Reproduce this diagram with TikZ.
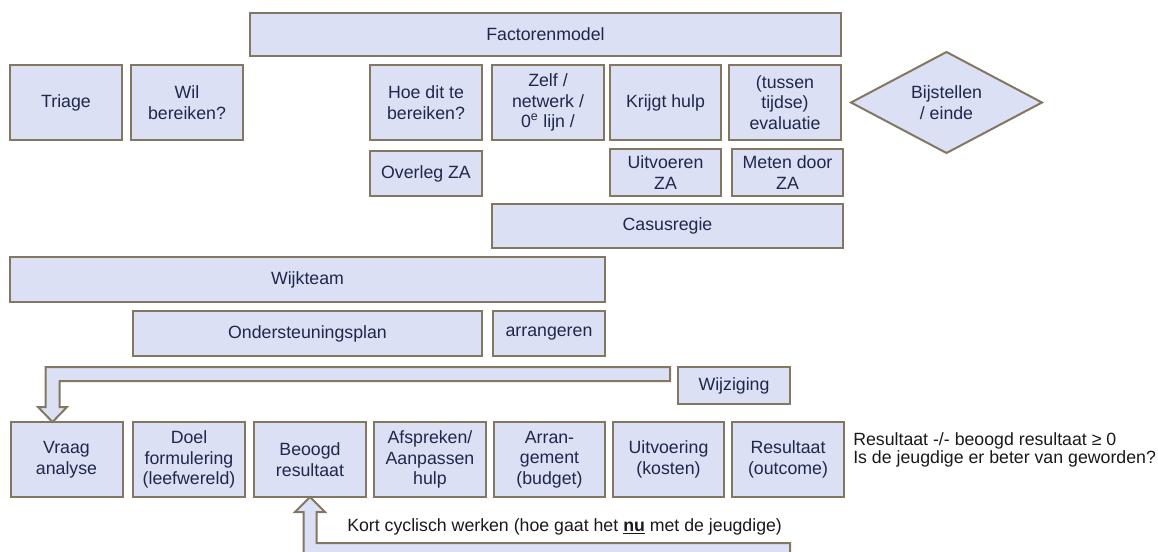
\documentclass[tikz,border=0pt]{standalone}
\usepackage{fontspec}
\setmainfont{Liberation Sans}
\usepackage{xcolor}
\usepackage{tikz}
\usetikzlibrary{arrows,shapes,positioning,calc}

\begin{document}
\begin{tikzpicture}[x=0.75pt,y=0.75pt,yscale=-1,xscale=1,
	blok/.style={draw={rgb, 255:red, 131; green, 119; blue, 98 }, line width=1.5pt, fill={rgb, 255:red, 220; green, 224; blue, 245 }, inner sep=0pt, outer sep=0pt, align=center, text={rgb, 255:red, 30; green, 40; blue, 75 }, font=\fontsize{13.3}{15.5}\selectfont, minimum width=84pt, minimum height=56.25pt},
	pijl/.style={draw={rgb, 255:red, 131; green, 119; blue, 98 }, line width=1.5pt, fill={rgb, 255:red, 220; green, 224; blue, 245 }, line join=miter},
	tekst/.style={text={rgb, 255:red, 25; green, 25; blue, 25 }, inner sep=0pt, align=left, font=\fontsize{13.3}{14}\selectfont}]
	\useasboundingbox (0,0) rectangle (1158,551);
	\clip (0,0) rectangle (1158,551);

	%Shape: Rectangle [id:factoren]
	\node [blok, minimum width=443.25pt, minimum height=32.25pt] (factoren) at (545.5,34.5) {Factorenmodel};

	%Shape: Rectangle [id:row two]
	\node [blok] (triage) at (66,102.5) {Triage};
	\node [blok] (wil) at (187,102.5) {Wil\\bereiken?};
	\node [blok] (hoe) at (426,102.5) {Hoe dit te\\bereiken?};
	\node [blok] (zelf) at (548,102.5) {Zelf /\\netwerk /\\0\textsuperscript{e} lijn /};
	\node [blok, minimum width=83.25pt] (krijgt) at (665.5,102.5) {Krijgt hulp};
	\node [blok] (evaluatie) at (785,102.5) {(tussen\\tijdse)\\evaluatie};
	%Shape: Diamond [id:bijstellen]
	\node [blok, shape=diamond, aspect=1.9, minimum width=143.25pt, minimum height=75.75pt] (bijstellen) at (946.5,102.5) {Bijstellen\\/ einde};

	%Shape: Rectangle [id:row three]
	\node [blok, minimum height=33.75pt] (overleg) at (426,173.5) {Overleg ZA};
	\node [blok, minimum width=83.25pt, minimum height=35.25pt] (uitvoeren) at (665.5,172.5) {Uitvoeren\\ZA};
	\node [blok, minimum width=83.25pt, minimum height=35.25pt] (meten) at (787.5,172.5) {Meten door\\ZA};
	\node [blok, minimum width=263.25pt, minimum height=33pt] (casus) at (667.5,226) {Casusregie};

	%Shape: Rectangle [id:wijkteam]
	\node [blok, minimum width=446.25pt, minimum height=33.75pt] (wijkteam) at (307.5,279.5) {Wijkteam};
	\node [blok, minimum width=261.75pt, minimum height=33.75pt] (plan) at (307.5,333.5) {Ondersteuningsplan};
	\node [blok, minimum height=33.75pt] (arrangeren) at (549,333.5) {arrangeren};
	\node [blok, minimum height=27.75pt] (wijziging) at (734,385.5) {Wijziging};

	%Shape: Rectangle [id:bottom row]
	\node [blok] (vraag) at (66.5,459.5) {Vraag\\analyse};
	\node [blok] (doel) at (189,459.5) {Doel\\formulering\\(leefwereld)};
	\node [blok] (beoogd) at (310,459.5) {Beoogd\\resultaat};
	\node [blok] (afspreken) at (430,459.5) {Afspreken/\\Aanpassen\\hulp};
	\node [blok, minimum width=83.25pt] (arrangement) at (549.5,459.5) {Arran-\\gement\\(budget)};
	\node [blok, minimum width=83.25pt] (uitvoering) at (668.5,459.5) {Uitvoering\\(kosten)};
	\node [blok] (resultaat) at (788,459.5) {Resultaat\\(outcome)};

	%Shape: Bent Arrow [id:terug naar vraag]
	\coordinate (wstart) at (670,374);
	\path (vraag.north west) ++(42,0) coordinate (vtip);
	\draw [pijl] (vtip) -- ++(14.5,-15) -- ++(-7.5,0) |- ($(wstart)+(0,7)$) -- ++(0,-14) -| ($(vtip)+(-7,-15)$) -- ++(-7.5,0) -- cycle;

	%Shape: Bent Arrow [id:kort cyclisch]
	\coordinate (kstart) at (790,550);
	\coordinate (btip) at (beoogd.south);
	\draw [pijl] (btip) -- ++(15,15) -- ++(-8.5,0) |- ($(kstart)+(0,-7)$) -- ++(0,14) -| ($(btip)+(-6.5,15)$) -- ++(-8.5,0) -- cycle;

	% Text Node
	\node [tekst, anchor=west] (uitkomst) at (853,450) {Resultaat -/- beoogd resultaat ≥ 0\\Is de jeugdige er beter van geworden?};
	% Text Node
	\node [tekst, anchor=west] (kort) at (347,527) {Kort cyclisch werken (hoe gaat het \underline{\textbf{nu}} met de jeugdige)};
\end{tikzpicture}
\end{document}
